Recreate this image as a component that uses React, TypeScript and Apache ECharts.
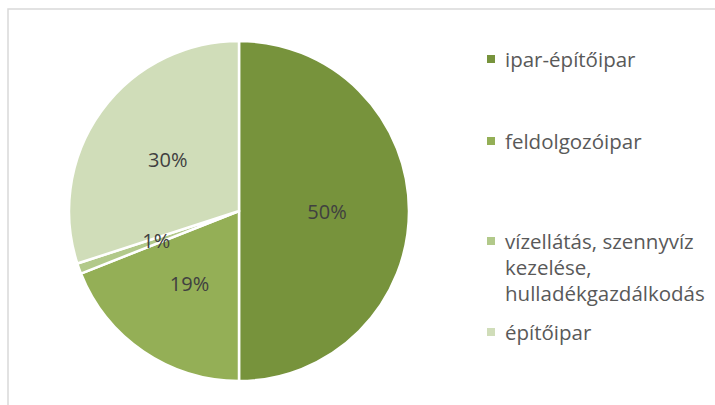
import React, { useEffect, useRef } from "react";
import * as echarts from "echarts";

const categories = [
  "ipar-építőipar",
  "feldolgozóipar",
  "vízellátás, szennyvíz kezelése, hulladékgazdálkodás",
  "építőipar",
];
const legendLabels = [
  "ipar-építőipar",
  "feldolgozóipar",
  "vízellátás, szennyvíz\nkezelése,\nhulladékgazdálkodás",
  "építőipar",
];
const values = [50, 19, 1, 30];
const colors = ["#77933C", "#94AF56", "#B2C98A", "#D0DDB9"];
const legendCenters = [59, 141, 241, 332];

export default function App() {
  const ref = useRef<HTMLDivElement>(null);
  useEffect(() => {
    if (!ref.current) return;
    const chart = echarts.init(ref.current, undefined, { renderer: "svg" });
    const font = "'Open Sans', 'Noto Sans', sans-serif";
    const lh = 26;
    const legends = categories.map((name, i) => {
      const lines = legendLabels[i].split("\n").length;
      const iconH = 8 + (lines - 1) * lh;
      const icon =
        lines > 1
          ? `path://M0,0h8v8h-8z M0,${iconH} L0.01,${iconH} L0,${iconH}z`
          : "rect";
      return {
        left: 487,
        top: legendCenters[i] - lh / 2,
        padding: 0,
        itemWidth: 8,
        itemHeight: lines > 1 ? iconH : 8,
        icon,
        selectedMode: false,
        data: [name],
        formatter: () => legendLabels[i],
        itemStyle: { borderWidth: 0 },
        textStyle: {
          fontFamily: font,
          fontSize: 20.5,
          color: "#595959",
          lineHeight: lh,
          padding: [0, 0, 0, 5],
        },
      };
    });
    chart.setOption({
      animation: false,
      color: colors,
      graphic: [
        {
          type: "rect",
          shape: { x: 8, y: 9, width: 900, height: 600 },
          style: { fill: "none", stroke: "#D9D9D9", lineWidth: 1.5 },
          silent: true,
        },
      ],
      legend: legends,
      series: [
        {
          type: "pie",
          center: [239, 211],
          radius: 170,
          startAngle: 90,
          clockwise: true,
          data: categories.map((name, i) => ({ name, value: values[i] })),
          itemStyle: { borderColor: "#FFFFFF", borderWidth: 2.5 },
          label: {
            show: true,
            position: "inside",
            fontFamily: font,
            fontSize: 20,
            color: "#404040",
            formatter: (p: any) => Math.round(p.percent) + "%",
          },
          labelLine: { show: false },
          emphasis: { disabled: true },
        },
      ],
    });
    return () => chart.dispose();
  }, []);
  return (
    <div
      ref={ref}
      style={{ position: "fixed", left: 0, top: 0, width: 715, height: 405, background: "#fff" }}
    />
  );
}
